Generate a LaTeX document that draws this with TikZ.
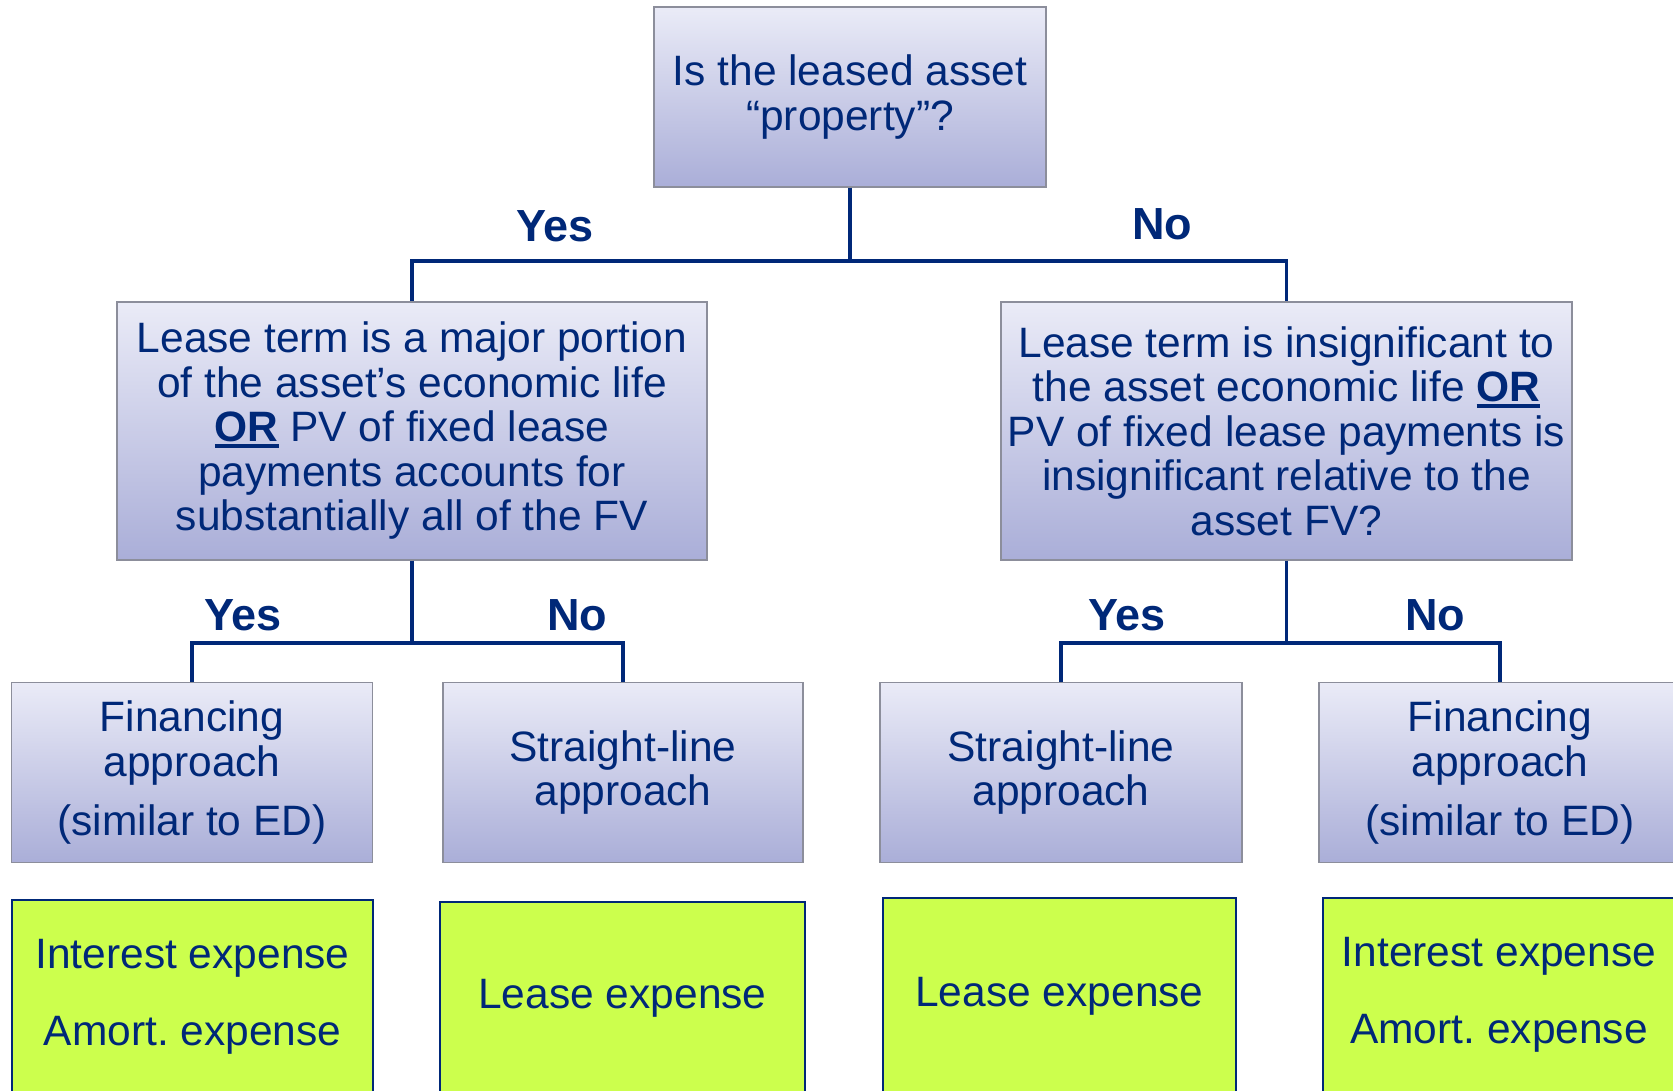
\documentclass[tikz,border=0pt]{standalone}
\usepackage{fontspec}
\setmainfont{Liberation Sans}
\usetikzlibrary{positioning}
\frenchspacing
\definecolor{navy}{RGB}{0,40,120}
\definecolor{boxtop}{RGB}{234,235,247}
\definecolor{boxbot}{RGB}{170,174,216}
\definecolor{boxline}{RGB}{140,142,155}
\definecolor{limefill}{RGB}{204,255,77}
\newcommand{\ulword}[1]{\sbox0{\textbf{#1}}\makebox[0pt][l]{\rule[-6pt]{\wd0}{3.5pt}}\usebox0}

\begin{document}
\begin{tikzpicture}[x=1pt,y=-1pt,
    question/.style={draw=boxline, line width=1.2pt, top color=boxtop, bottom color=boxbot,
      text=navy, align=center, inner sep=0pt, font=\fontsize{42.5}{44.5}\selectfont},
    result/.style={draw=navy, line width=2pt, fill=limefill,
      text=navy, align=center, inner sep=0pt, font=\fontsize{42.5}{44.5}\selectfont},
    link/.style={draw=navy, line width=3.8pt},
    answer/.style={text=navy, font=\bfseries\fontsize{45}{47}\selectfont}]
  \useasboundingbox (0,0) rectangle (1673,1090);
  \node[question, minimum width=392pt, minimum height=180pt] (prop) at (850,97)
    {Is the leased asset\\“property”?};
  \node[question, minimum width=590pt, minimum height=258pt] (major) at (412,431)
    {Lease term is a major portion\\of the asset’s economic life\\\ulword{OR} PV of fixed lease\\payments accounts for\\substantially all of the FV};
  \node[question, minimum width=571pt, minimum height=258pt] (minor) at (1286.5,431)
    {Lease term is insignificant to\\the asset economic life \ulword{OR}\\PV of fixed lease payments is\\insignificant relative to the\\asset FV?};
  \node[question, minimum width=361pt, minimum height=180pt] (finL) at (192,772.5)
    {Financing\\approach\\[15pt](similar to ED)};
  \node[question, minimum width=360pt, minimum height=180pt] (slL) at (623,772.5)
    {Straight-line\\approach};
  \node[question, minimum width=362pt, minimum height=180pt] (slR) at (1061,772.5)
    {Straight-line\\approach};
  \node[question, minimum width=362pt, minimum height=180pt] (finR) at (1500,772.5)
    {Financing\\approach\\[15pt](similar to ED)};
  \node[result, minimum width=361pt, minimum height=194pt] (expL) at (192.5,997)
    {Interest expense\\[32pt]Amort. expense};
  \node[result, minimum width=365pt, minimum height=192pt] (leaseL) at (622.5,998)
    {Lease expense};
  \node[result, minimum width=353pt, minimum height=196pt] (leaseR) at (1059.5,996)
    {Lease expense};
  \node[result, minimum width=352pt, minimum height=194pt] (expR) at (1499,995)
    {Interest expense\\[32pt]Amort. expense};
  % branches
  \coordinate (j0) at (850,261);
  \coordinate (j1) at (412,643);
  \coordinate (j2) at (1286.5,643);
  \draw[link] (prop.south) -- (j0);
  \draw[link] (j0) -| (major.north);
  \draw[link] (j0) -| (minor.north);
  \draw[link] (major.south) -- (j1);
  \draw[link] (j1) -| (finL.north);
  \draw[link] (j1) -| (slL.north);
  \draw[link] (minor.south) -- (j2);
  \draw[link] (j2) -| (slR.north);
  \draw[link] (j2) -| (finR.north);
  % answers
  \node[answer] (yes0) at (555,226) {Yes};
  \node[answer] (no0) at (1162,224) {No};
  \node[answer] (yes1) at (243,615) {Yes};
  \node[answer] (no1) at (577,615) {No};
  \node[answer] (yes2) at (1127,615) {Yes};
  \node[answer] (no2) at (1435,615) {No};
\end{tikzpicture}
\end{document}
